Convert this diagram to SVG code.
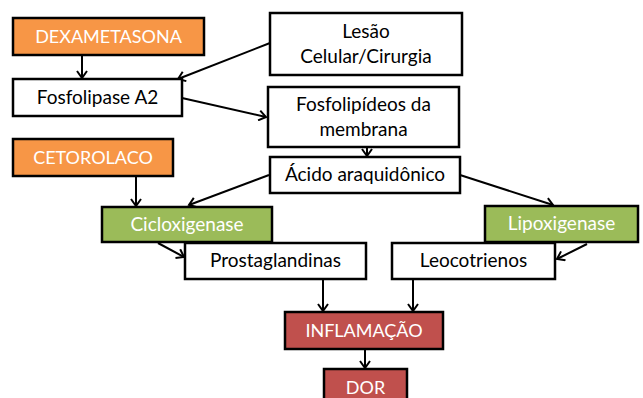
<svg xmlns="http://www.w3.org/2000/svg" width="643" height="398" viewBox="0 0 643 398">
<defs>
<marker id="ah" markerWidth="12" markerHeight="12" refX="9" refY="6" orient="auto" markerUnits="userSpaceOnUse">
<path d="M2,1 L9,6 L2,11" fill="none" stroke="#000" stroke-width="2"/>
</marker>
<style>
.b{stroke:#000;stroke-width:2.5;fill:#fff}
.o{fill:#F79646}.g{fill:#9BBB59}.r{fill:#C0504D}
text{font-family:Lato,"Open Sans","Liberation Sans",sans-serif;font-size:19px;text-anchor:middle;fill:#000}
.u{font-size:18px}
.w{fill:#fff}
.c line{stroke:#000;stroke-width:2;marker-end:url(#ah)}
</style>
</defs>
<rect width="643" height="398" fill="#fff"/>
<g class="c" id="connectors">
<line x1="82" y1="55" x2="82" y2="78"/>
<line x1="270" y1="43" x2="178" y2="79"/>
<line x1="182" y1="98" x2="266" y2="117"/>
<line x1="367" y1="140" x2="367" y2="156"/>
<line x1="136" y1="176" x2="136" y2="206"/>
<line x1="269" y1="175" x2="189" y2="205"/>
<line x1="460" y1="175" x2="553" y2="205"/>
<line x1="158" y1="243" x2="184" y2="257"/>
<line x1="587" y1="244" x2="557" y2="259"/>
<line x1="323" y1="279" x2="323" y2="311"/>
<line x1="413" y1="279" x2="413" y2="311"/>
<line x1="365" y1="349" x2="365" y2="368"/>
</g>
<g id="dexametasona"><rect class="b o" x="13" y="18" width="191" height="37"/><text class="w u" x="108.5" y="43">DEXAMETASONA</text></g>
<g id="fosfolipase"><rect class="b" x="13" y="79" width="169" height="37"/><text x="97.5" y="104">Fosfolipase A2</text></g>
<g id="lesao"><rect class="b" x="270" y="13" width="192" height="62"/><text x="366" y="38">Lesão</text><text x="366" y="63">Celular/Cirurgia</text></g>
<g id="fosfolipideos"><rect class="b" x="268" y="87" width="191" height="60"/><text x="363.5" y="111">Fosfolipídeos  da</text><text x="363.5" y="136">membrana</text></g>
<g id="acido"><rect class="b" x="270" y="157" width="190" height="36"/><text x="365" y="181">Ácido araquidônico</text></g>
<g id="cetorolaco"><rect class="b o" x="13" y="139" width="160" height="37"/><text class="w u" x="93" y="164">CETOROLACO</text></g>
<g id="cicloxigenase"><rect class="b g" x="102" y="207" width="170" height="35"/><text class="w" x="187" y="231">Cicloxigenase</text></g>
<g id="lipoxigenase"><rect class="b g" x="485" y="206" width="153" height="36"/><text class="w" x="561.5" y="230">Lipoxigenase</text></g>
<g id="prostaglandinas"><rect class="b" x="185" y="243" width="181" height="36"/><text x="275.5" y="267">Prostaglandinas</text></g>
<g id="leocotrienos"><rect class="b" x="392" y="243" width="163" height="36"/><text x="473.5" y="267">Leocotrienos</text></g>
<g id="inflamacao"><rect class="b r" x="285" y="312" width="158" height="37"/><text class="w u" x="364" y="337">INFLAMAÇÃO</text></g>
<g id="dor"><rect class="b r" x="324" y="369" width="83" height="40"/><text class="w u" x="365.5" y="394">DOR</text></g>
</svg>
